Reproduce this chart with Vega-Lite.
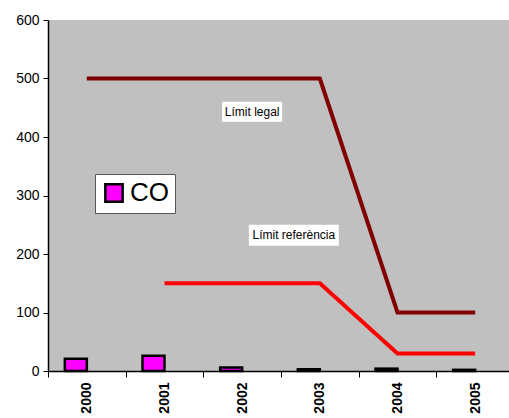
{
  "$schema": "https://vega.github.io/schema/vega-lite/v6.json",
  "autosize": "none",
  "width": 466,
  "height": 351,
  "padding": {"left": 48, "top": 20, "right": 0, "bottom": 47},
  "background": "white",
  "config": {
    "view": {"fill": "#C0C0C0", "stroke": null},
    "font": "Liberation Sans"
  },
  "datasets": {
    "main": [
      {"year": "2000", "co": 21, "legal": 500, "ref": null, "series": "CO"},
      {"year": "2001", "co": 26, "legal": 500, "ref": 150, "series": "CO"},
      {"year": "2002", "co": 6, "legal": 500, "ref": 150, "series": "CO"},
      {"year": "2003", "co": 3, "legal": 500, "ref": 150, "series": "CO"},
      {"year": "2004", "co": 4, "legal": 100, "ref": 30, "series": "CO"},
      {"year": "2005", "co": 2, "legal": 100, "ref": 30, "series": "CO"}
    ],
    "lab1": [{"year": "2002", "v": 443, "label": "Límit legal"}],
    "lab2": [{"year": "2003", "v": 232, "label": "Límit referència"}]
  },
  "encoding": {
    "x": {
      "field": "year", "type": "ordinal",
      "scale": {"paddingInner": 0, "paddingOuter": 0},
      "axis": {
        "title": null, "labelAngle": -90, "labelAlign": "right", "labelBaseline": "middle",
        "labelFontSize": 14, "labelFontWeight": "bold", "labelColor": "black",
        "labelPadding": 5, "tickBand": "extent", "tickColor": "black", "tickSize": 6,
        "domainColor": "black", "domainWidth": 1.5
      }
    }
  },
  "layer": [
    {
      "data": {"name": "main"},
      "mark": {"type": "bar", "width": 22, "xOffset": -11, "stroke": "black", "strokeWidth": 2.5},
      "encoding": {
        "y": {
          "field": "co", "type": "quantitative",
          "scale": {"domain": [0, 600]},
          "axis": {
            "title": null, "values": [0, 100, 200, 300, 400, 500, 600], "grid": false,
            "labelFontSize": 14, "labelColor": "black", "tickColor": "black", "tickSize": 5,
            "domainColor": "black", "domainWidth": 1.5, "labelPadding": 4
          }
        },
        "color": {
          "field": "series", "type": "nominal",
          "scale": {"range": ["#FF00FF"]},
          "legend": {
            "orient": "none", "legendX": 47, "legendY": 154, "title": null,
            "fillColor": "white", "strokeColor": "#555555", "padding": 6,
            "symbolType": "square", "symbolSize": 300, "symbolStrokeColor": "black",
            "symbolStrokeWidth": 2.5, "labelFontSize": 26, "labelColor": "black",
            "labelOffset": 3
          }
        }
      }
    },
    {
      "data": {"name": "main"},
      "mark": {"type": "line", "color": "#800000", "strokeWidth": 4},
      "encoding": {"y": {"field": "legal", "type": "quantitative"}}
    },
    {
      "data": {"name": "main"},
      "mark": {"type": "line", "color": "#FF0000", "strokeWidth": 4},
      "encoding": {"y": {"field": "ref", "type": "quantitative"}}
    },
    {
      "data": {"name": "lab1"},
      "mark": {"type": "point", "shape": "M-1,-0.333L1,-0.333L1,0.333L-1,0.333Z", "filled": true, "color": "white", "opacity": 1, "size": 3600, "xOffset": 10},
      "encoding": {"y": {"field": "v", "type": "quantitative"}}
    },
    {
      "data": {"name": "lab1"},
      "mark": {"type": "text", "fontSize": 12, "color": "black", "xOffset": 10},
      "encoding": {"y": {"field": "v", "type": "quantitative"}, "text": {"field": "label"}}
    },
    {
      "data": {"name": "lab2"},
      "mark": {"type": "point", "shape": "M-1,-0.233L1,-0.233L1,0.233L-1,0.233Z", "filled": true, "color": "white", "opacity": 1, "size": 8100, "xOffset": -26},
      "encoding": {"y": {"field": "v", "type": "quantitative"}}
    },
    {
      "data": {"name": "lab2"},
      "mark": {"type": "text", "fontSize": 12, "color": "black", "xOffset": -26},
      "encoding": {"y": {"field": "v", "type": "quantitative"}, "text": {"field": "label"}}
    }
  ],
  "resolve": {"scale": {"y": "shared"}}
}
